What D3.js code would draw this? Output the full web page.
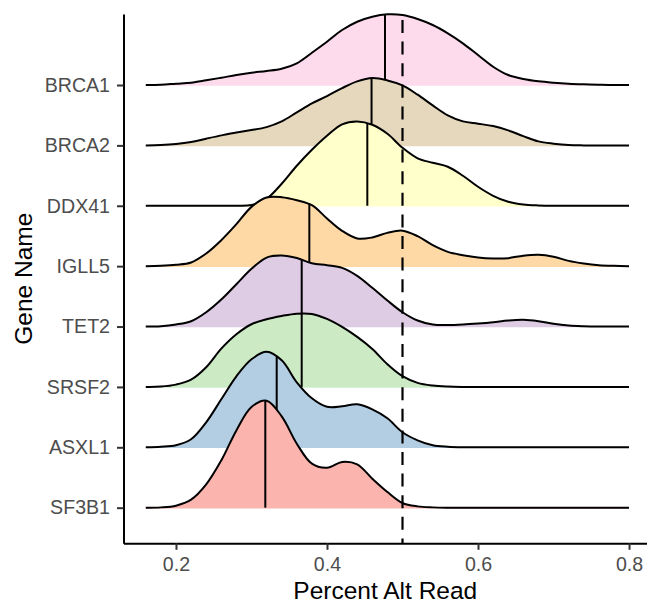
<!DOCTYPE html>
<html><head><meta charset="utf-8">
<script src="https://cdn.jsdelivr.net/npm/d3@7"></script>
<style>
body{margin:0;background:#fff}
svg{display:block}
text{font-family:"Liberation Sans",Arial,Helvetica,sans-serif}
</style>
</head><body>
<svg id="chart" width="647" height="603"></svg>
<script>
// genes from bottom (position 1) to top
const genes = ["SF3B1","ASXL1","SRSF2","TET2","IGLL5","DDX41","BRCA2","BRCA1"];
const colors = ["#FBB4AE","#B3CDE3","#CCEBC5","#DECBE4","#FED9A6","#FFFFCC","#E5D8BD","#FDDAEC"];
// evaluation grid of Percent Alt Read
const xGrid = [0.16,0.18,0.20,0.22,0.24,0.26,0.28,0.30,0.32,0.34,0.36,0.38,0.40,0.42,0.44,0.46,0.48,0.50,0.52,0.54,0.56,0.58,0.60,0.62,0.64,0.66,0.68,0.70,0.72,0.74,0.76,0.78,0.80];
// ridge heights (relative units) per gene on xGrid
const dSF3B1 = [0,0.3,2,8,23.3,47.3,77.3,100.7,107,91.3,64,44,40,45.7,43.3,29,15.7,4.7,1.3,0.3,0,0,0,0,0,0,0,0,0,0,0,0,0];
const dASXL1 = [0,0.5,2,8,25,48,71,88,95.5,87,65,49,40.5,41,43,38,29,15,7,2,0.5,0,0,0,0,0,0,0,0,0,0,0,0];
const dSRSF2 = [0,0.3,2.3,7.3,19.7,38.3,52.7,62.7,67.7,71,73.3,73,68,60,50,38,22.7,10.7,4,1.3,0.3,0,0,0,0,0,0,0,0,0,0,0,0];
const dTET2  = [0,0.3,2,5.3,14.3,27,42.3,57.7,69,71,68.5,63.3,61.3,58.7,50.7,38.7,26,14.3,6,2,1.5,2,3,4.3,6,6.7,5.3,2.7,1,0.3,0,0,0];
const dIGLL5 = [0,0.3,1.3,3.7,12.7,26,42,59.3,68.7,69,66,61,47.7,35.3,27.7,28.7,33.3,35.5,30,21,14.3,11,8.7,7.7,8,10.5,11.5,9.5,5.3,2.7,1,0.3,0];
const dDDX41 = [0,0,0,0,0,0,0,0.7,7,22,40,56,70,81.5,84.3,81,72,58,47.5,43,39,30,19,10,4,1.2,0.3,0,0,0,0,0,0];
const dBRCA2 = [0,0.3,1.3,3.3,6.7,10,13,15.3,18.3,24,33,42,49.3,57.3,64,67.3,65,60,50.7,40,30,24,21.7,19.3,15,9.3,4,1.7,0.3,0,0,0,0];
const dBRCA1 = [0,0.3,1.3,2.3,4.7,7.3,10,12.3,14,16.3,21.7,32.3,43.3,55,63.3,68.3,70.7,70,66,60,51.7,41.7,30,18.3,10,6,3.7,2.3,1.3,0.7,0.3,0,0];
const densities = [dSF3B1,dASXL1,dSRSF2,dTET2,dIGLL5,dDDX41,dBRCA2,dBRCA1];
const medians = [0.3183,0.3334,0.3665,0.3665,0.3766,0.4534,0.459,0.4768];
const refLine = 0.5;
const xTicks = [0.2,0.4,0.6,0.8];

const svg = d3.select("#chart");
const x = d3.scaleLinear().domain([0.1305,0.8238]).range([123.5,647]);
const y = d3.scaleLinear().domain([0.41,9.176]).range([543.3,14]);
const step = y(1) - y(2);
const h = d3.scaleLinear().domain([0,60.4]).range([0,step]);
const curve = d3.curveCatmullRom.alpha(0.5);

function yAtX(node, tx){
  const L = node.getTotalLength();
  let lo=0, hi=L;
  for(let k=0;k<50;k++){
    const mid=(lo+hi)/2;
    const p=node.getPointAtLength(mid);
    if(p.x<tx) lo=mid; else hi=mid;
  }
  return node.getPointAtLength((lo+hi)/2).y;
}

const g = svg.append("g");
d3.range(genes.length).reverse().forEach(i=>{
  const base = y(i+1);
  const pts = xGrid.map((xv,j)=>[x(xv), Math.min(base, base - h(densities[i][j]))]);
  const areaGen = d3.area().x(d=>d[0]).y0(base+0.8).y1(d=>d[1]).curve(curve);
  const lineGen = d3.line().curve(curve);
  g.append("path").attr("d",areaGen(pts)).attr("fill",colors[i]).attr("stroke","none");
  const ln = g.append("path").attr("d",lineGen(pts)).attr("fill","none")
    .attr("stroke","#000").attr("stroke-width",2).attr("stroke-linejoin","round");
  const mx = x(medians[i]);
  const my = yAtX(ln.node(), mx);
  g.append("line").attr("x1",mx).attr("x2",mx).attr("y1",base).attr("y2",my)
    .attr("stroke","#000").attr("stroke-width",2);
});

// reference dashed line
svg.append("line")
  .attr("x1",x(refLine)).attr("x2",x(refLine))
  .attr("y1",y.range()[1]).attr("y2",y.range()[0])
  .attr("stroke","#000").attr("stroke-width",2.2)
  .attr("stroke-dasharray","13,8.6").attr("stroke-dashoffset",15.6);

// axes
const xAxis = svg.append("g").attr("transform","translate(0,543.3)")
  .call(d3.axisBottom(x).tickValues(xTicks).tickFormat(d3.format(".1f"))
    .tickSize(6.5).tickPadding(7).tickSizeOuter(0));
const yAxis = svg.append("g").attr("transform","translate(123.5,0)")
  .call(d3.axisLeft(y).tickValues(d3.range(1,genes.length+1)).tickFormat(d=>genes[d-1])
    .tickSize(6.5).tickPadding(7).tickSizeOuter(0));
[xAxis,yAxis].forEach(a=>{
  a.attr("font-family",null).attr("font-size",null);
  a.select(".domain").attr("stroke","#000").attr("stroke-width",2);
  a.selectAll(".tick line").attr("stroke","#333").attr("stroke-width",2);
  a.selectAll(".tick text").attr("fill","#4D4D4D").style("font-size","19.6px");
});

svg.append("text").attr("x",385.3).attr("y",598.5).attr("text-anchor","middle")
  .style("font-size","24.5px").attr("fill","#000").text("Percent Alt Read");
svg.append("text").attr("transform","translate(32,278.7) rotate(-90)").attr("text-anchor","middle")
  .style("font-size","24.5px").attr("fill","#000").text("Gene Name");
</script>
</body></html>
